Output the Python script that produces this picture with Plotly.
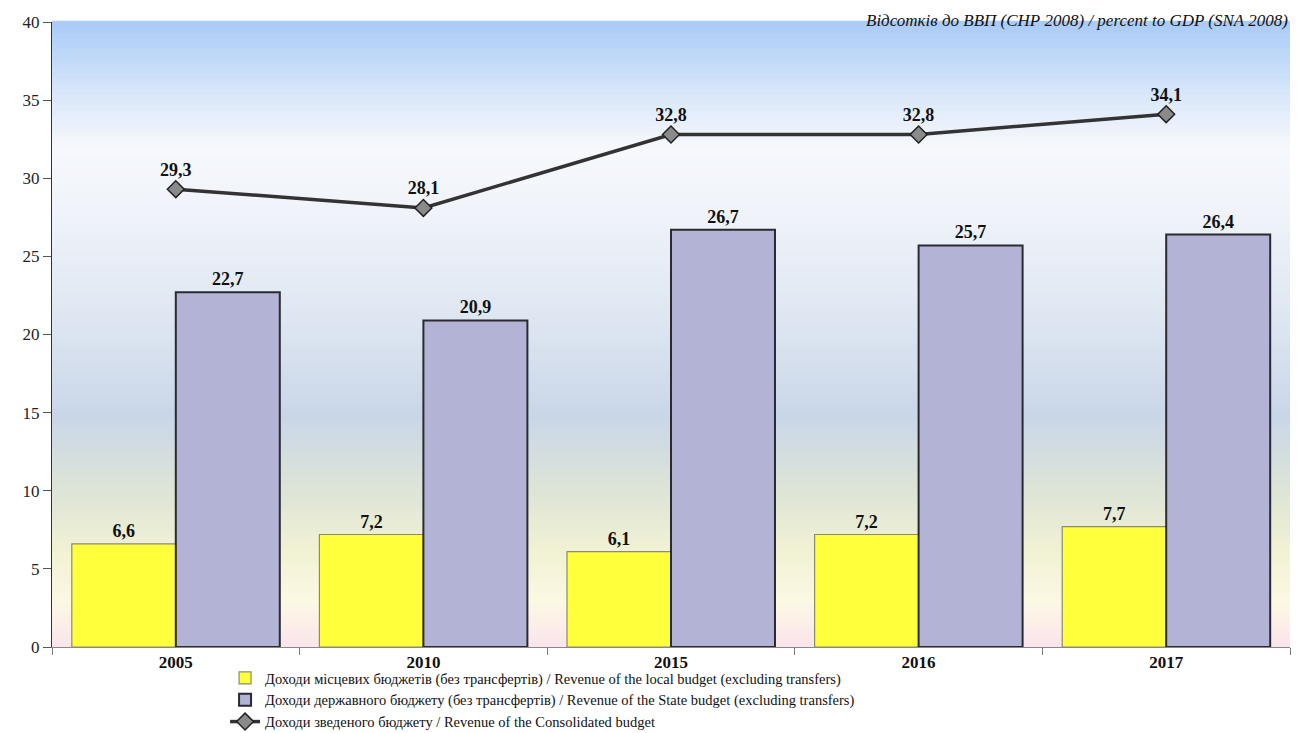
import plotly.graph_objects as go

years = ["2005", "2010", "2015", "2016", "2017"]
local_rev = [6.6, 7.2, 6.1, 7.2, 7.7]
state_rev = [22.7, 20.9, 26.7, 25.7, 26.4]
consolidated = [29.3, 28.1, 32.8, 32.8, 34.1]

def fmt(v):
    return f"{v:.1f}".replace(".", ",")

FONT = "Liberation Serif"
LBL = dict(family=FONT, size=18, color="#111", weight="bold")

fig = go.Figure()
fig.add_trace(go.Bar(
    x=years, y=local_rev, name="Доходи місцевих бюджетів (без трансфертів) / Revenue of the local budget (excluding transfers)",
    marker=dict(color="#ffff3c", line=dict(color="#8c8c6c", width=1.2)),
    text=[fmt(v) for v in local_rev], textposition="outside",
    textfont=LBL, cliponaxis=False,
))
fig.add_trace(go.Bar(
    x=years, y=state_rev, name="Доходи державного бюджету (без трансфертів) / Revenue of the State budget (excluding transfers)",
    marker=dict(color="#b3b3d6", line=dict(color="#2a2a30", width=2)),
    text=[fmt(v) for v in state_rev], textposition="outside",
    textfont=LBL, cliponaxis=False,
))
fig.add_trace(go.Scatter(
    x=years, y=consolidated, name="Доходи зведеного бюджету / Revenue of the Consolidated budget",
    mode="lines+markers+text",
    line=dict(color="#333333", width=3.5),
    marker=dict(symbol="diamond", size=13, color="#8a8a8a", line=dict(color="#222", width=1.5)),
    text=[fmt(v) for v in consolidated], textposition="top center",
    textfont=LBL, cliponaxis=False,
))

# vertical gradient background (y domain fraction -> colour)
stops = [
    (0.00, (251, 228, 236)),
    (0.07, (251, 248, 228)),
    (0.15, (242, 242, 212)),
    (0.25, (221, 228, 214)),
    (0.37, (201, 214, 232)),
    (0.50, (219, 228, 240)),
    (0.70, (240, 244, 250)),
    (0.80, (246, 248, 252)),
    (0.875, (220, 233, 250)),
    (1.00, (169, 203, 247)),
]
def col(t):
    for (a, ca), (b, cb) in zip(stops[:-1], stops[1:]):
        if a <= t <= b:
            f = (t - a) / (b - a)
            c = [round(ca[i] + f * (cb[i] - ca[i])) for i in range(3)]
            return f"rgb({c[0]},{c[1]},{c[2]})"
    return "white"

N = 120
shapes = []
for i in range(N):
    y0 = i / N
    y1 = (i + 1) / N
    shapes.append(dict(type="rect", xref="x domain", yref="y domain",
                       x0=0, x1=1, y0=y0, y1=y1 + 0.002, layer="below",
                       line=dict(width=0), fillcolor=col((y0 + y1) / 2)))

fig.update_layout(
    width=1292, height=725,
    margin=dict(l=44, r=10, t=14, b=86, autoexpand=False),
    paper_bgcolor="white", plot_bgcolor="white",
    barmode="group", bargap=0.16, bargroupgap=0,
    shapes=shapes,
    font=dict(family=FONT, size=15, color="#222"),
    showlegend=True,
    legend=dict(orientation="v", xref="container", yref="container",
                x=0.168, xanchor="left", y=0.098, yanchor="top",
                font=dict(family=FONT, size=14.5, color="#111"),
                bgcolor="rgba(255,255,255,0)", tracegroupgap=0, itemwidth=30,
                traceorder="normal"),
    annotations=[dict(text="Відсотків до ВВП (СНР 2008) / percent to GDP (SNA 2008)",
                      xref="paper", yref="paper", x=1.0, y=1.0, xanchor="right", yanchor="bottom",
                      showarrow=False, font=dict(family=FONT, size=17, color="#111", style="italic"),
                      yshift=-10)],
)
fig.update_yaxes(range=[0, 40], dtick=5, ticks="outside", ticklen=8, tickcolor="#555",
                 showline=True, linecolor="#333", linewidth=1, showgrid=False, zeroline=False,
                 tickfont=dict(family=FONT, size=17, color="#222"))
fig.update_xaxes(showline=True, linecolor="#888", linewidth=1, ticks="outside", tickson="boundaries",
                 ticklen=7, tickcolor="#777", showgrid=False,
                 tickfont=dict(family=FONT, size=17, color="#111", weight="bold"))

fig.write_html("out.html")
